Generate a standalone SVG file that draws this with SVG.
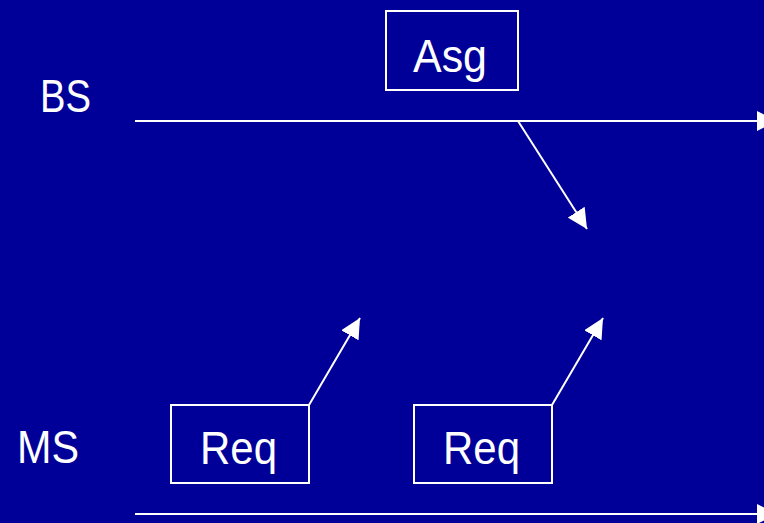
<svg xmlns="http://www.w3.org/2000/svg" width="764" height="523" viewBox="0 0 764 523">
  <defs>
    <marker id="head" markerUnits="userSpaceOnUse" markerWidth="20" markerHeight="20" viewBox="0 0 20 20" refX="20" refY="10" orient="auto">
      <path d="M0,0 L20,10 L0,20 Z" fill="#ffffff"/>
    </marker>
    <style>
      .bg { fill: #000099; }
      .box { fill: none; stroke: #ffffff; stroke-width: 2; }
      .lbl { font-family: "Liberation Sans", Arial, sans-serif; font-size: 46px; fill: #ffffff; }
      .conn { stroke: #ffffff; stroke-width: 2; fill: none; marker-end: url(#head); }
    </style>
  </defs>
  <rect class="bg" x="0" y="0" width="764" height="523"/>

  <!-- station labels -->
  <g id="bs-label">
    <text class="lbl" x="40" y="112" textLength="51" lengthAdjust="spacingAndGlyphs">BS</text>
  </g>
  <g id="ms-label">
    <text class="lbl" x="17" y="463" textLength="62" lengthAdjust="spacingAndGlyphs">MS</text>
  </g>

  <!-- message boxes -->
  <g id="asg">
    <rect class="box" x="386" y="11" width="132" height="79"/>
    <text class="lbl" x="413" y="72" textLength="74" lengthAdjust="spacingAndGlyphs">Asg</text>
  </g>
  <g id="req1">
    <rect class="box" x="171" y="405" width="138" height="78"/>
    <text class="lbl" x="200" y="464" textLength="77" lengthAdjust="spacingAndGlyphs">Req</text>
  </g>
  <g id="req2">
    <rect class="box" x="414" y="405" width="138" height="78"/>
    <text class="lbl" x="443" y="464" textLength="77" lengthAdjust="spacingAndGlyphs">Req</text>
  </g>

  <!-- time axes and message arrows -->
  <g id="connectors">
    <line class="conn" x1="135" y1="121" x2="777" y2="121"/>
    <line class="conn" x1="135" y1="514" x2="777" y2="514"/>
    <line class="conn" x1="518" y1="121" x2="587" y2="229"/>
    <line class="conn" x1="309" y1="405" x2="360" y2="318"/>
    <line class="conn" x1="552" y1="405" x2="603" y2="318"/>
  </g>
</svg>
